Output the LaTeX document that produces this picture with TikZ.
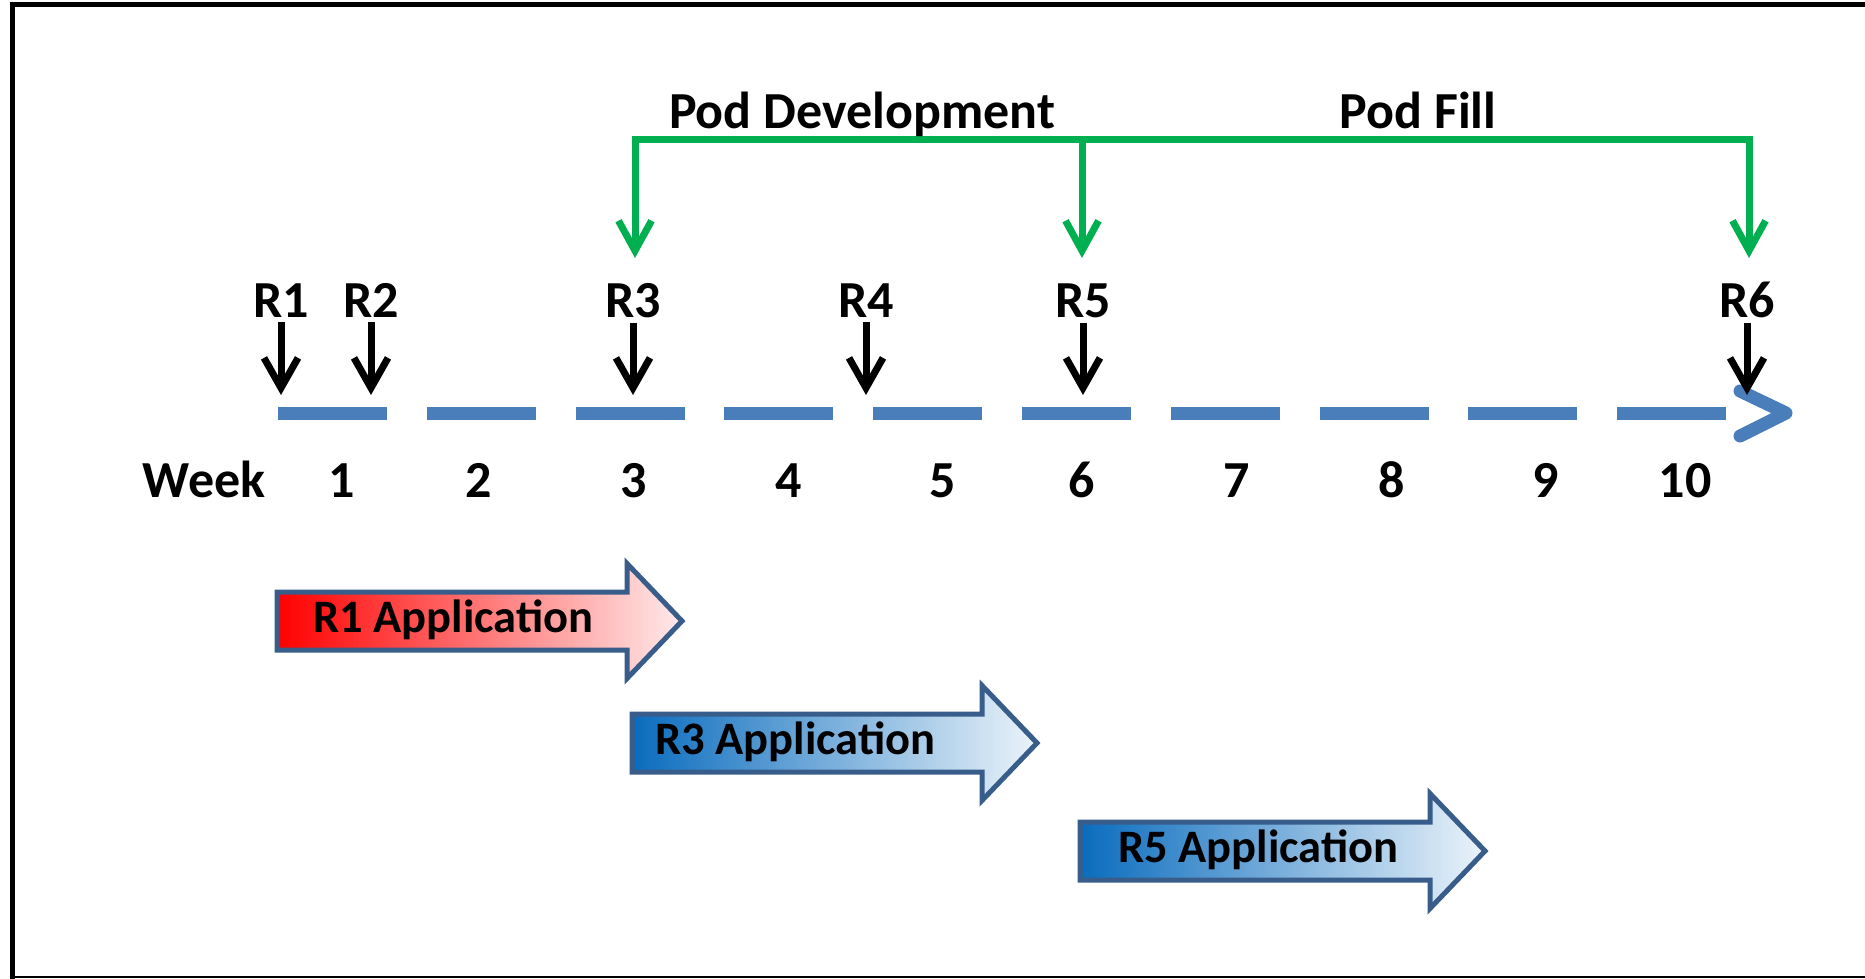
\documentclass[tikz,border=0pt]{standalone}
\usepackage{fontspec}
\setmainfont{Carlito}
\usetikzlibrary{arrows.meta}
\definecolor{tlblue}{RGB}{74,126,187}
\definecolor{pgreen}{RGB}{0,176,80}
\definecolor{appedge}{RGB}{56,93,138}
\definecolor{appblue}{RGB}{10,108,190}
\begin{document}
\begin{tikzpicture}[x=1pt,y=-1pt,
  lbl/.style={font=\fontsize{52}{62}\selectfont\bfseries, inner sep=0pt, anchor=base},
  applbl/.style={font=\fontsize{46.5}{56}\selectfont\bfseries, inner sep=0pt, anchor=base west},
  tl/.style={line width=13pt, draw=tlblue},
  blk/.style={line width=7pt, -{Straight Barb[length=30pt,width=34pt]}},
  grnhead/.style={line width=7pt, draw=pgreen, line join=miter},
  apparrow/.style={draw=appedge, line width=5pt, line join=miter}]
\useasboundingbox (0,0) rectangle (1865,978);
\clip (0,0) rectangle (1865,978);
% frame
\draw[line width=5pt] (12.5,1000) -- (12.5,4.5) -- (1900,4.5);
\draw[line width=2pt] (12.5,977) -- (1900,977);
% timeline
\foreach \i in {0,...,9} \draw[tl] ({278+148.8*\i},413) -- ++(109,0);
\coordinate (chA) at (1740,391);
\coordinate (chB) at (1786,413);
\coordinate (chC) at (1740,436);
\draw[tl, line cap=round, line join=round] (chA) -- (chB) -- (chC);
% week labels
\node[lbl] (week) at (204,497) {Week};
\foreach \n/\x in {1/342,2/479,3/634,4/789,5/943,6/1082,7/1237,8/1392,9/1546,10/1685}
  \node[lbl] (w\n) at (\x,497) {\n};
% release arrows
\foreach \n/\x in {1/281,2/371,3/633,4/866,5/1083,6/1747} {
  \node[lbl] (r\n) at (\x,317) {R\n};
  \coordinate (t\n) at (\x,395);
  \draw[blk, shorten <=5pt] (r\n.south) -- (t\n);
}
% green bracket
\coordinate (gl) at (635,139);
\coordinate (gm) at (1082,139);
\coordinate (gr) at (1749,139);
\coordinate (g3) at (635,258);
\coordinate (g5) at (1082,258);
\coordinate (g6) at (1749,258);
\draw[grnhead, {Straight Barb[length=30pt,width=33pt]}-{Straight Barb[length=30pt,width=33pt]}] (g3) -- (gl) -- (gr) -- (g6);
\draw[grnhead, -{Straight Barb[length=30pt,width=33pt]}] (gm) -- (g5);
\node[lbl] (pd) at (862,128) {Pod Development};
\node[lbl] (pf) at (1418,128) {Pod Fill};
% application arrows
\foreach \L/\C/\col/\tx/\lab/\nm in {277/621/red/313/R1/a1, 632/743/appblue/655/R3/a3, 1080/851/appblue/1118/R5/a5} {
  \path[apparrow, left color=\col, right color=white!92!\col]
    (\L,{\C-29}) -- ({\L+350},{\C-29}) -- ({\L+350},{\C-57.5}) -- ({\L+405},\C)
    -- ({\L+350},{\C+57.5}) -- ({\L+350},{\C+29}) -- (\L,{\C+29}) -- cycle;
  \node[applbl] (\nm) at (\tx,{\C+11}) {\lab\ Application};
}
\end{tikzpicture}
\end{document}
